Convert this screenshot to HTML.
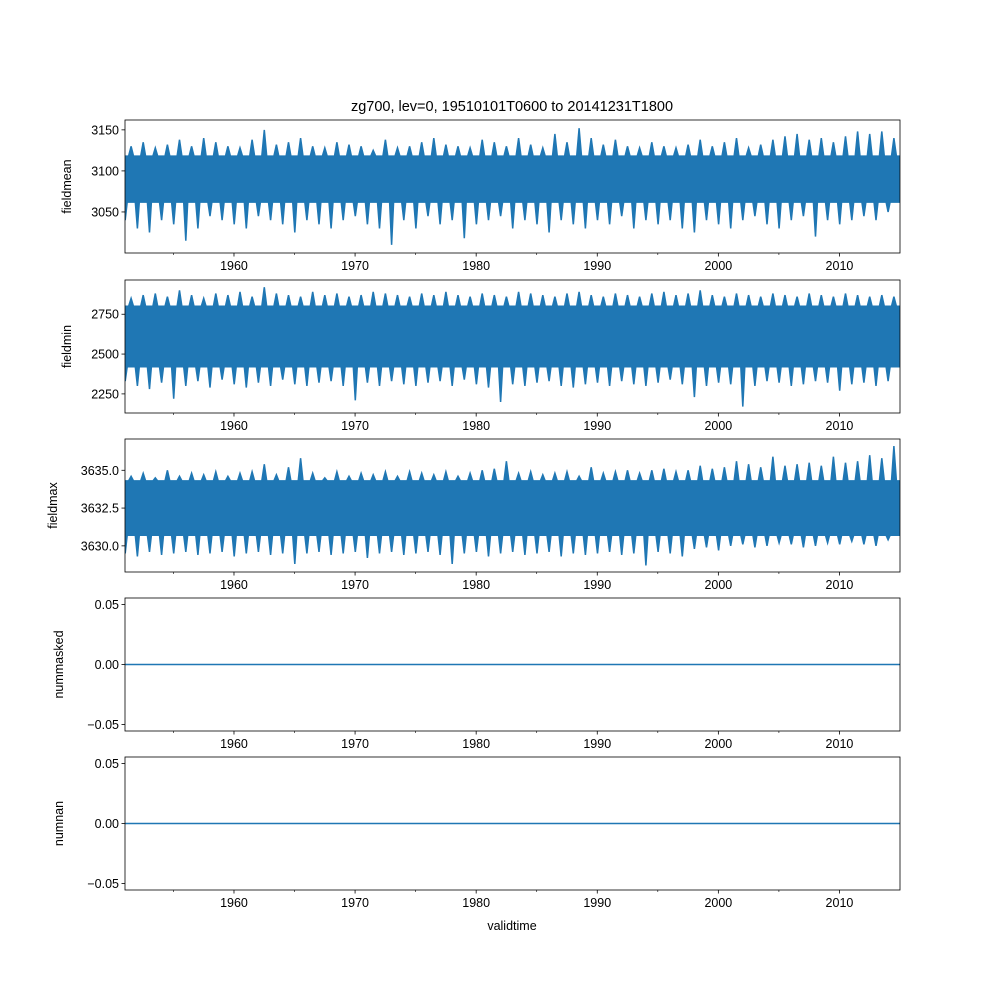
<!DOCTYPE html>
<html><head><meta charset="utf-8"><style>
body{margin:0;background:#fff}
svg{display:block;font-family:"Liberation Sans","DejaVu Sans",sans-serif}
</style></head><body>
<svg id="chart" width="1000" height="1000" xmlns="http://www.w3.org/2000/svg"></svg>
<script>
// ---- data ----
const startYear = 1951;
const xTickYears = [1960, 1970, 1980, 1990, 2000, 2010];
const xMinorYears = [1955, 1965, 1975, 1985, 1995, 2005];
const panelNames = ["fieldmean", "fieldmin", "fieldmax", "nummasked", "numnan"];

const meanHi = [3130,3135,3128,3132,3138,3130,3140,3135,3130,3128,3138,3150,3132,3135,3140,3130,3128,3135,3132,3130,3125,3138,3128,3130,3135,3140,3132,3130,3128,3138,3135,3130,3140,3132,3128,3145,3135,3152,3140,3132,3138,3130,3128,3135,3130,3128,3132,3138,3130,3135,3140,3128,3132,3138,3142,3145,3138,3140,3135,3142,3148,3145,3148,3140];
const meanLo = [3040,3030,3025,3040,3035,3015,3030,3045,3040,3035,3030,3045,3040,3035,3025,3040,3035,3030,3040,3045,3035,3030,3010,3040,3030,3045,3035,3040,3018,3035,3040,3045,3030,3040,3035,3025,3040,3035,3030,3040,3035,3045,3030,3040,3035,3040,3030,3025,3040,3035,3030,3040,3045,3035,3030,3040,3045,3020,3040,3035,3040,3045,3040,3050];
const meanCore = [3062, 3118];

const minHi = [2850,2870,2880,2860,2900,2870,2850,2880,2870,2890,2860,2920,2880,2870,2860,2890,2870,2880,2860,2870,2890,2880,2870,2860,2880,2870,2890,2870,2860,2880,2870,2860,2890,2880,2870,2860,2880,2890,2870,2860,2880,2870,2860,2880,2890,2870,2880,2900,2870,2860,2880,2870,2860,2880,2870,2860,2880,2870,2860,2880,2870,2860,2870,2860];
const minLo = [2330,2300,2280,2320,2220,2300,2330,2290,2340,2310,2290,2320,2300,2340,2310,2300,2320,2330,2300,2210,2320,2300,2330,2310,2300,2320,2330,2300,2340,2310,2290,2200,2310,2300,2320,2330,2300,2290,2310,2320,2300,2330,2310,2300,2320,2340,2310,2230,2300,2320,2310,2170,2300,2330,2320,2300,2310,2330,2320,2270,2310,2320,2300,2330];
const minCore = [2420, 2800];

const maxHi = [3634.6,3634.8,3634.5,3635.0,3634.6,3634.8,3634.7,3634.9,3634.6,3634.8,3634.9,3635.4,3634.7,3635.2,3635.8,3634.8,3634.5,3634.9,3634.6,3634.8,3634.7,3634.9,3634.6,3634.9,3634.8,3634.7,3634.9,3634.6,3634.8,3635.0,3635.1,3635.6,3634.8,3634.9,3634.7,3634.8,3634.9,3634.6,3635.2,3634.8,3634.9,3635.0,3634.8,3635.0,3635.1,3634.9,3635.0,3635.3,3635.1,3635.2,3635.6,3635.4,3635.2,3635.9,3635.3,3635.4,3635.5,3635.3,3635.9,3635.5,3635.6,3636.0,3635.8,3636.6];
const maxLo = [3629.5,3629.3,3629.6,3629.4,3629.5,3629.6,3629.4,3629.5,3629.6,3629.3,3629.5,3629.6,3629.4,3629.5,3628.8,3629.5,3629.6,3629.4,3629.5,3629.6,3629.2,3629.5,3629.6,3629.4,3629.5,3629.6,3629.4,3628.8,3629.5,3629.6,3629.3,3629.5,3629.6,3629.4,3629.5,3629.6,3629.3,3629.5,3629.4,3629.5,3629.6,3629.4,3629.5,3628.7,3629.6,3629.5,3629.3,3629.8,3629.9,3629.7,3630.0,3630.1,3629.9,3630.0,3630.2,3630.1,3629.9,3630.0,3630.2,3630.1,3630.3,3630.1,3630.0,3630.4];
const maxCore = [3630.7, 3634.3];

const panelYTicks = [[3050,3100,3150],[2250,2500,2750],[3630.0,3632.5,3635.0],[-0.05,0.00,0.05],[-0.05,0.00,0.05]];
const panelYTickLabels = [["3050","3100","3150"],["2250","2500","2750"],["3630.0","3632.5","3635.0"],["−0.05","0.00","0.05"],["−0.05","0.00","0.05"]];
const panelYDomain = [[3000,3162],[2130,2965],[3628.27,3637.07],[-0.0555,0.0555],[-0.0555,0.0555]];
const flatValues = [0, 0];

// ---- layout ----
const svg = document.getElementById('chart');
const NS = "http://www.w3.org/2000/svg";
const L = 125, R = 900;
const panelTop = [120, 280, 439, 598, 757];
const panelH = 133;
const xDom = [1951.0, 2015.0];
const xs = v => L + (v - xDom[0]) / (xDom[1] - xDom[0]) * (R - L);
const C = "#1f77b4";

function mk(tag, attrs, parent) {
  const e = document.createElementNS(NS, tag);
  for (const k in attrs) e.setAttribute(k, attrs[k]);
  (parent || svg).appendChild(e);
  return e;
}

const title = mk('text', {x: 512, y: 111, 'text-anchor': 'middle', 'font-size': 14.5, fill: '#000'});


title.textContent = "zg700, lev=0, 19510101T0600 to 20141231T1800";

const bands = [[meanHi, meanLo, meanCore], [minHi, minLo, minCore], [maxHi, maxLo, maxCore]];

panelNames.forEach((name, p) => {
  const top = panelTop[p], bot = top + panelH;
  const dom = panelYDomain[p];
  const ys = v => bot - (v - dom[0]) / (dom[1] - dom[0]) * panelH;
  const g = mk('g', {});
  
  

  const clipId = 'clip' + p;
  const cp = mk('clipPath', {id: clipId}, g);
  mk('rect', {x: L, y: top, width: R - L, height: panelH}, cp);

  if (p < 3) {
    const [hi, lo, core] = bands[p];
    const n = Math.min(hi.length, lo.length);
    let top_pts = [], bot_pts = [];
    top_pts.push([xs(startYear), ys(core[1])]);
    for (let i = 0; i < n; i++) {
      const y0 = startYear + i;
      top_pts.push([xs(y0 + 0.3), ys(core[1])]);
      top_pts.push([xs(y0 + 0.5), ys(hi[i])]);
      top_pts.push([xs(y0 + 0.7), ys(core[1])]);
      bot_pts.push([xs(y0 + 0.02), ys(lo[i])]);
      bot_pts.push([xs(y0 + 0.18), ys(core[0])]);
      bot_pts.push([xs(y0 + 0.85), ys(core[0])]);
    }
    top_pts.push([xs(startYear + n), ys(core[1])]);
    bot_pts.push([xs(startYear + n), ys(core[0])]);
    const pts = top_pts.concat(bot_pts.reverse());
    const poly = mk('polygon', {points: pts.map(q => q[0].toFixed(1) + ',' + q[1].toFixed(1)).join(' '), fill: C, stroke: C, 'stroke-width': 1.5, 'clip-path': 'url(#' + clipId + ')'}, g);
    
    
  } else {
    const ln = mk('line', {x1: L, x2: R, y1: ys(flatValues[0]), y2: ys(flatValues[1]), stroke: C, 'stroke-width': 1.5}, g);
    
    
  }

  const frame = mk('rect', {x: L, y: top, width: R - L, height: panelH, fill: 'none', stroke: '#000', 'stroke-width': 0.8}, g);
  
  

  panelYTicks[p].forEach((v, i) => {
    const y = ys(v);
    mk('line', {x1: L - 3.5, x2: L, y1: y, y2: y, stroke: '#000', 'stroke-width': 0.8}, g);
    const t = mk('text', {x: L - 6, y: y + 4.5, 'text-anchor': 'end', 'font-size': 12.5, fill: '#000'}, g);
    
    
    t.textContent = panelYTickLabels[p][i];
  });

  xTickYears.forEach(yr => {
    const x = xs(yr);
    mk('line', {x1: x, x2: x, y1: bot, y2: bot + 3.5, stroke: '#000', 'stroke-width': 0.8}, g);
    const t = mk('text', {x: x, y: bot + 17, 'text-anchor': 'middle', 'font-size': 12.5, fill: '#000'}, g);
    
    
    t.textContent = yr;
  });
  xMinorYears.forEach(yr => {
    const x = xs(yr);
    mk('line', {x1: x, x2: x, y1: bot, y2: bot + 2, stroke: '#000', 'stroke-width': 0.6}, g);
  });

  const lx = p === 2 ? 57 : (p >= 3 ? 63 : 71);
  const yt = mk('text', {x: lx, y: top + panelH / 2, 'text-anchor': 'middle', 'font-size': 12.5, fill: '#000', transform: 'rotate(-90 ' + lx + ' ' + (top + panelH / 2) + ')'}, g);
  
  
  yt.textContent = name;
});

const xl = mk('text', {x: 512, y: 930, 'text-anchor': 'middle', 'font-size': 12.5, fill: '#000'});


xl.textContent = "validtime";
</script>
</body></html>
